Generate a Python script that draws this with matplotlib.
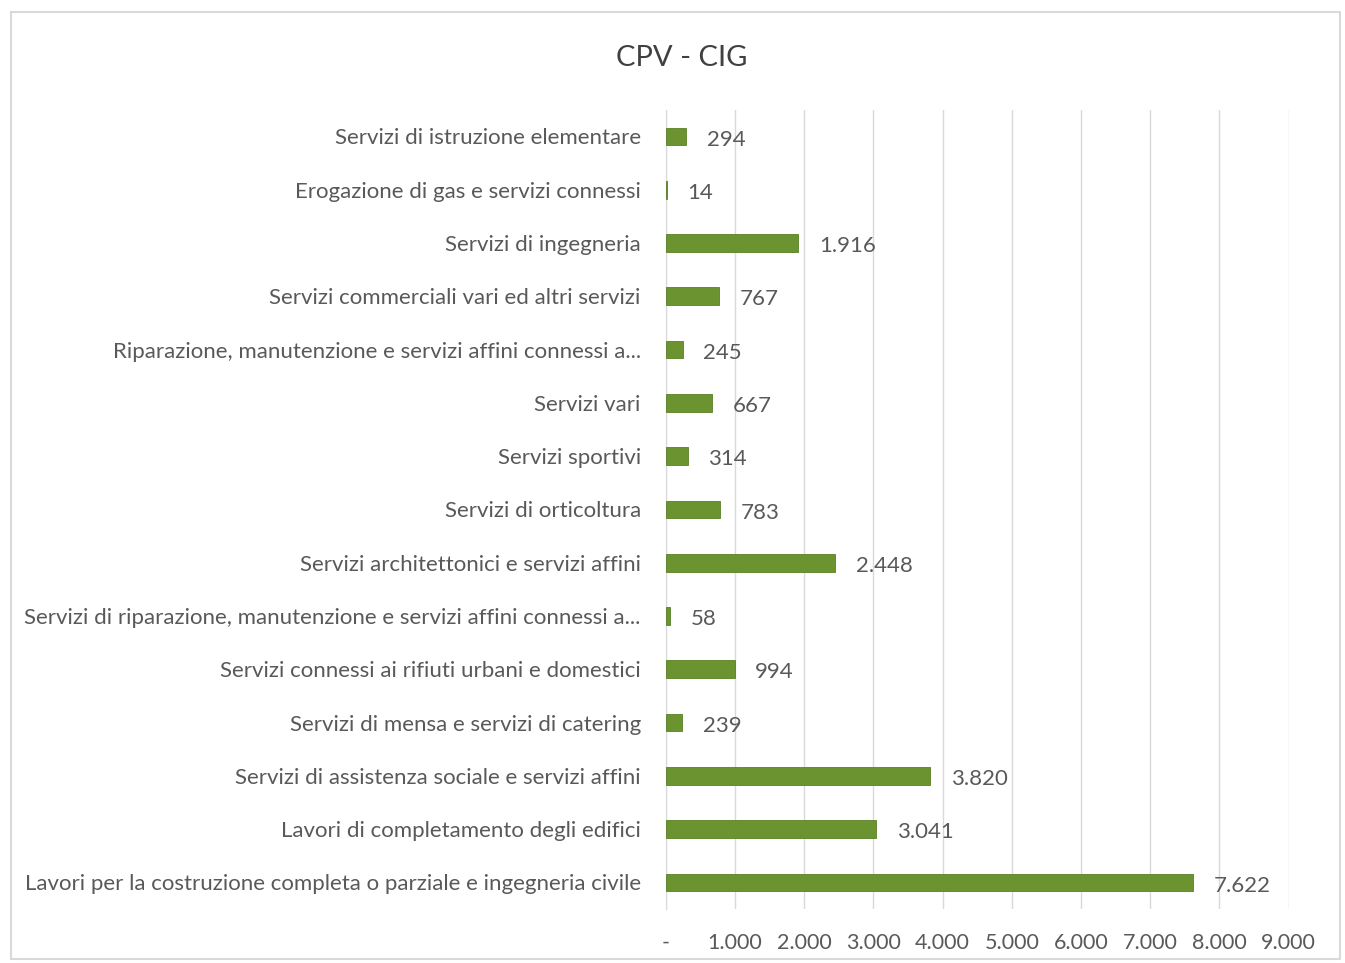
import matplotlib.pyplot as plt
from matplotlib.patches import Rectangle

# categories from top to bottom, as they appear in the chart
categories = [
    'Servizi di istruzione elementare',
    'Erogazione di gas e servizi connessi',
    'Servizi di ingegneria',
    'Servizi commerciali vari ed altri servizi',
    'Riparazione, manutenzione e servizi affini connessi a...',
    'Servizi vari',
    'Servizi sportivi',
    'Servizi di orticoltura',
    'Servizi architettonici e servizi affini',
    'Servizi di riparazione, manutenzione e servizi affini connessi a...',
    'Servizi connessi ai rifiuti urbani e domestici',
    'Servizi di mensa e servizi di catering',
    'Servizi di assistenza sociale e servizi affini',
    'Lavori di completamento degli edifici',
    'Lavori per la costruzione completa o parziale e ingegneria civile',
]
values = [294, 14, 1916, 767, 245, 667, 314, 783, 2448, 58, 994, 239, 3820, 3041, 7622]
tick_vals = [0, 1000, 2000, 3000, 4000, 5000, 6000, 7000, 8000, 9000]
tick_labels = ['-', '1.000', '2.000', '3.000', '4.000', '5.000', '6.000', '7.000', '8.000', '9.000']

plt.rcParams['font.family'] = ['Lato', 'DejaVu Sans']
txt = '#595959'

fig = plt.figure(figsize=(13.45, 9.63), dpi=100)
fig.patches.append(Rectangle((0.008, 0.004), 0.988, 0.984, transform=fig.transFigure,
                             fill=False, edgecolor='#d9d9d9', linewidth=1.5))
ax = fig.add_axes([0.495, 0.056, 0.463, 0.830])

y = list(range(len(categories)))
ax.barh(y, values, height=0.33, color='#6b9430', edgecolor='#5a7f26', linewidth=0.6, zorder=3)
for yi, v in zip(y, values):
    ax.text(v + 300, yi + 0.06, f'{v:,}'.replace(',', '.'), va='center', ha='left',
            fontsize=16, color=txt, zorder=4)

ax.set_xlim(0, 9000)
ax.set_ylim(len(categories) - 0.5, -0.5)
ax.set_yticks(y)
ax.set_yticklabels(categories, fontsize=16, color=txt)
ax.set_xticks(tick_vals)
ax.set_xticklabels(tick_labels, fontsize=15.5, color=txt)
ax.tick_params(axis='both', length=0)
ax.tick_params(axis='y', pad=18)
ax.tick_params(axis='x', pad=17)
ax.grid(axis='x', color='#d9d9d9', linewidth=1, zorder=0)
for s in ['top', 'right', 'bottom']:
    ax.spines[s].set_visible(False)
ax.spines['left'].set_color('#d9d9d9')

fig.text(0.507, 0.94, 'CPV - CIG', ha='center', va='center', fontsize=21, color='#404040')

fig.savefig('out.png', dpi=100)
